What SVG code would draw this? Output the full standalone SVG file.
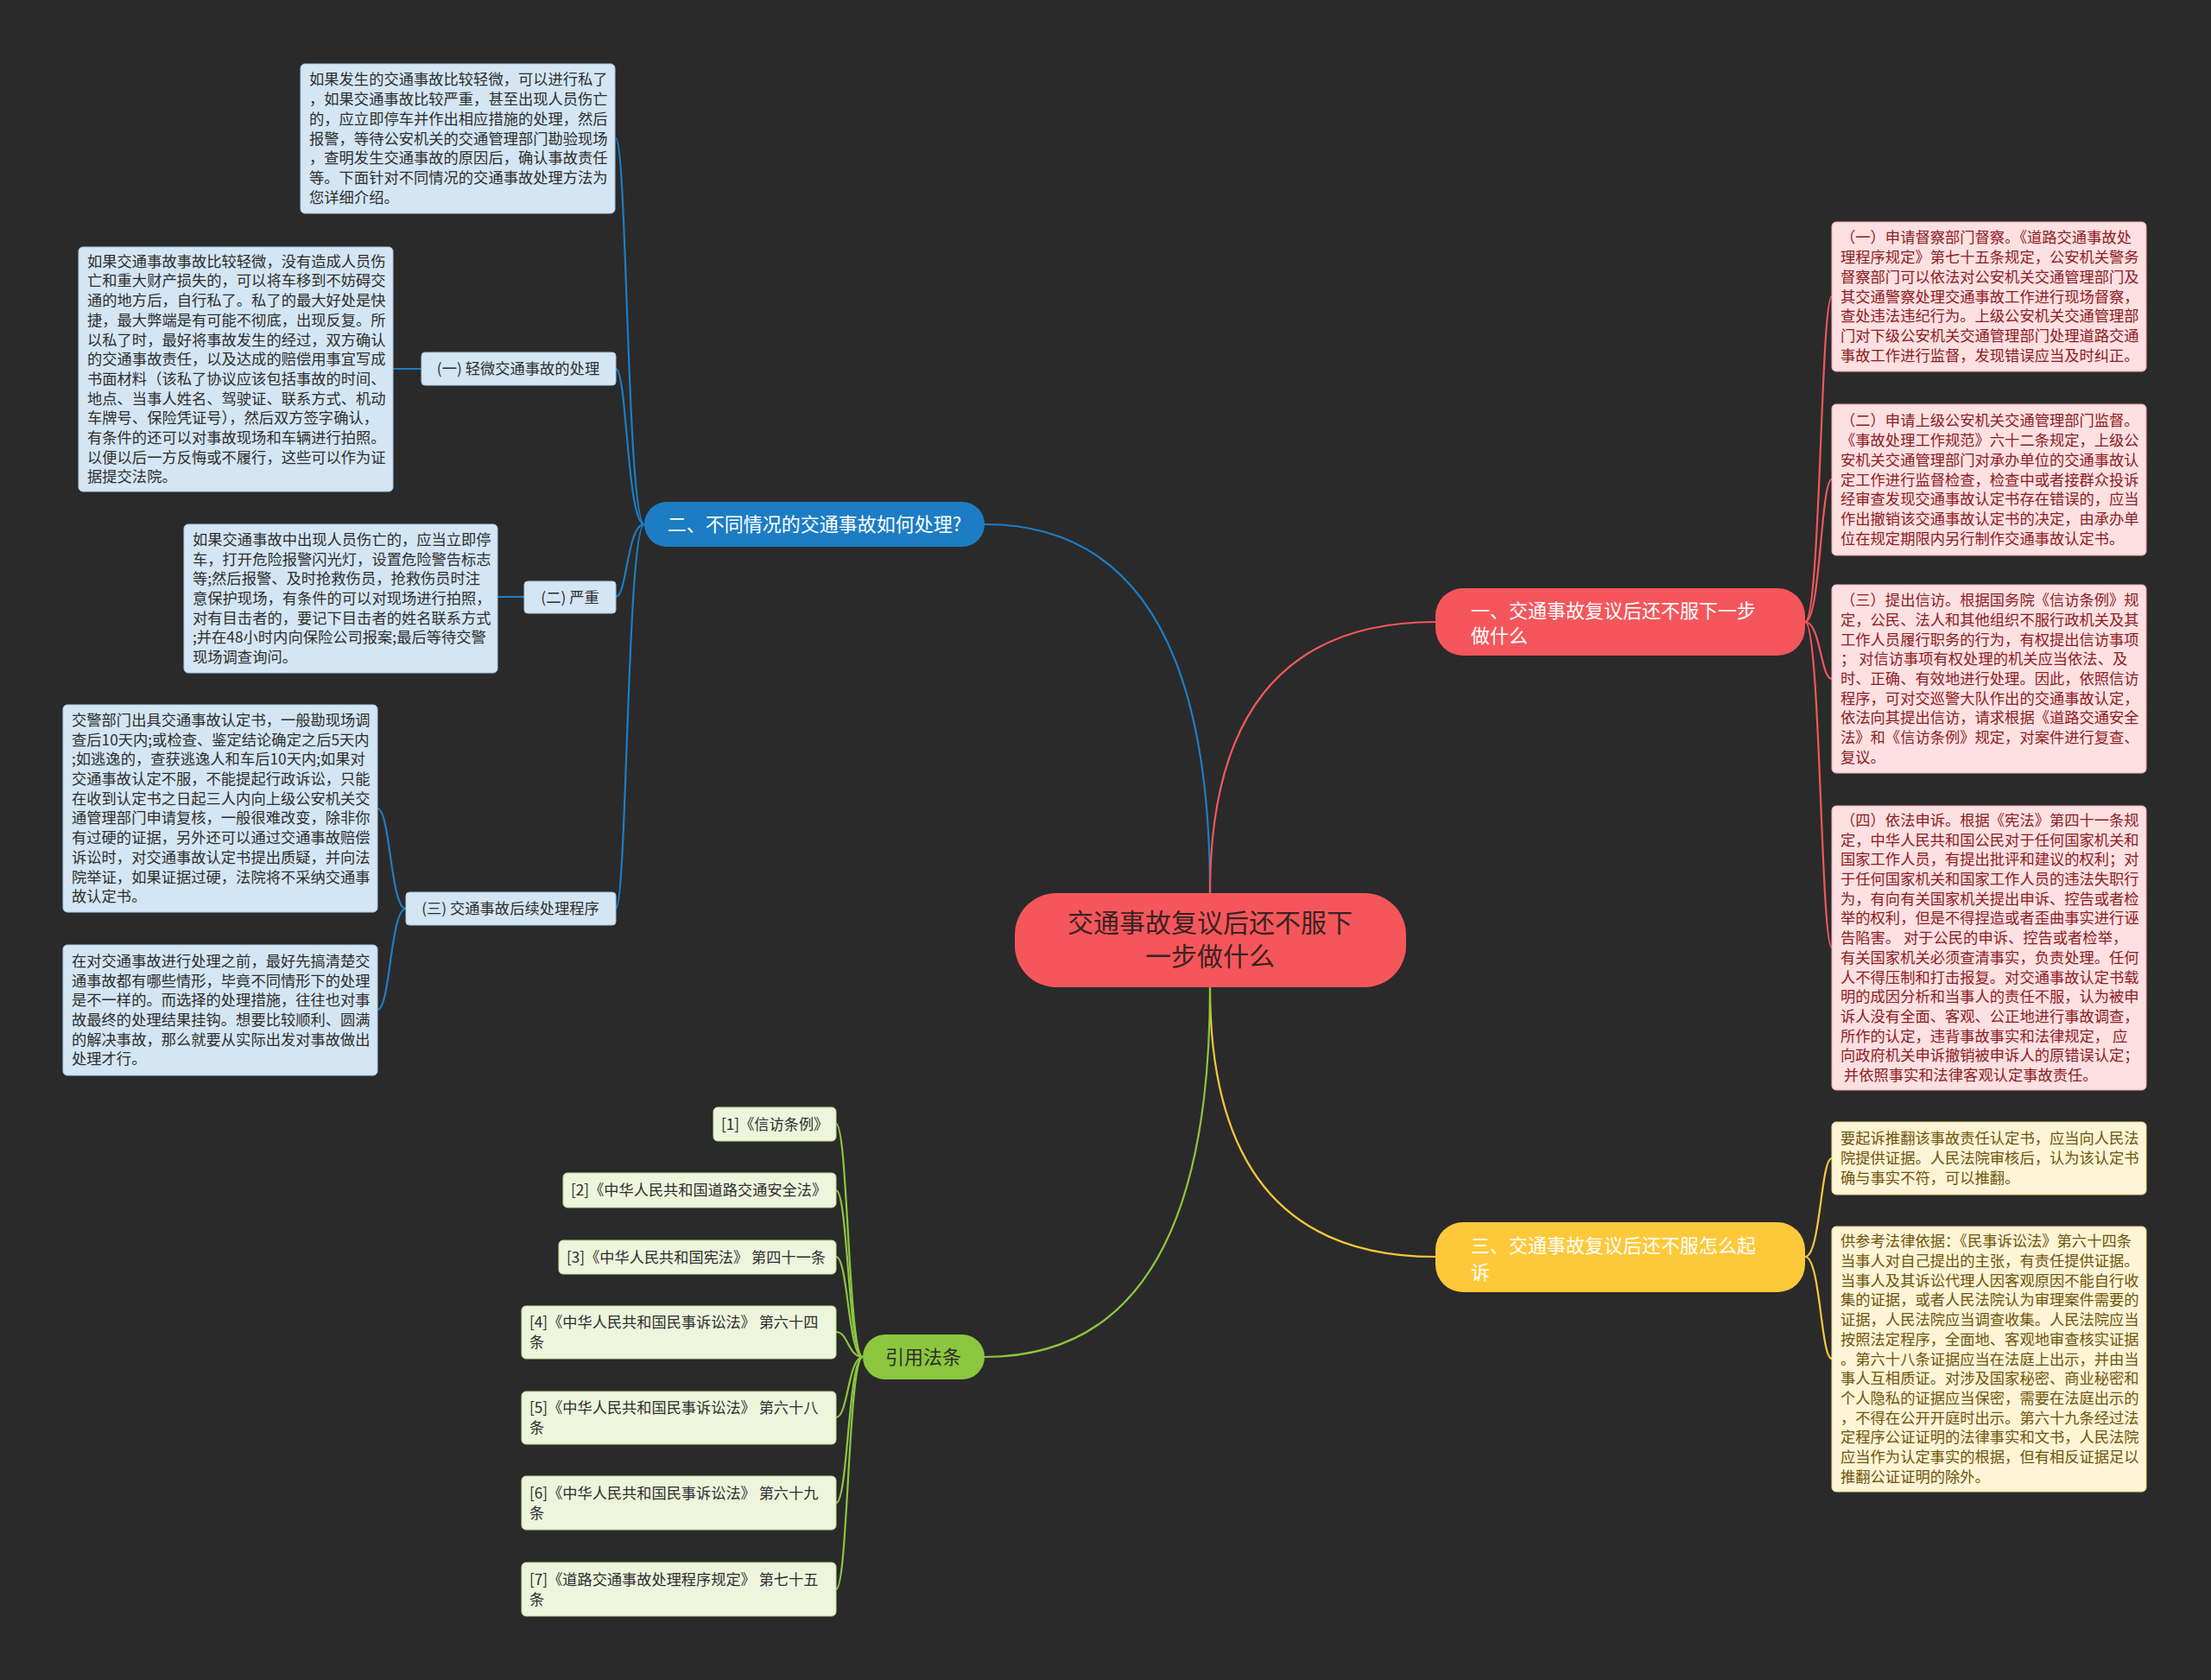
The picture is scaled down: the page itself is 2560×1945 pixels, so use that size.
<svg xmlns="http://www.w3.org/2000/svg" width="2560" height="1945" viewBox="0 0 2560 1945">
<style>
text{font-family:"Noto Sans CJK SC","Noto Sans",sans-serif}
.d{font-size:17.3px}
.r{font-size:17.2px}
.bt{fill:#2e2e2e}
.pt{fill:#8e1c22}
.yt{fill:#70540c}
.gt{fill:#2e2e2e}
.bb{fill:#d4e6f4;stroke:#a9c9e6;stroke-width:1}
.pb{fill:#fde0e2;stroke:#f2a7ab;stroke-width:1}
.yb{fill:#fdf5d6;stroke:#ecd58a;stroke-width:1}
.gb{fill:#edf5dc;stroke:#c3dc97;stroke-width:1}
.c{fill:none;stroke-width:2.2}
.cb{stroke:#1c7dc4}
.cr{stroke:#f0585c}
.cy{stroke:#f7c838}
.cg{stroke:#8cc63f}
</style>
<rect width="2560" height="1945" fill="#2a2a2a"/>
<g id="connectors">
<path class="c cb" d="M1401 1034 Q1401 607 1140 607" stroke-width="2.6"/>
<path class="c cr" d="M1401 1034 Q1401 720 1662 720" stroke-width="2.6"/>
<path class="c cy" d="M1401 1143 Q1401 1455 1662 1455" stroke-width="2.6"/>
<path class="c cg" d="M1401 1143 Q1401 1571 1140 1571" stroke-width="2.6"/>
<path class="c cb" d="M746 607 C726 607 726 160 713 160"/>
<path class="c cb" d="M746 607 C726 607 726 427 713 427"/>
<path class="c cb" d="M746 607 C726 607 726 691 713 691"/>
<path class="c cb" d="M746 607 C726 607 726 1052 713 1052"/>
<path class="c cb" d="M488 427 L455 427"/>
<path class="c cb" d="M607 691 L576 691"/>
<path class="c cb" d="M470 1052 C452 1052 452 936 437 936"/>
<path class="c cb" d="M470 1052 C452 1052 452 1169 437 1169"/>
<path class="c cr" d="M2090 720 C2108 720 2108 343 2121 343"/>
<path class="c cr" d="M2090 720 C2108 720 2108 555 2121 555"/>
<path class="c cr" d="M2090 720 C2108 720 2108 786 2121 786"/>
<path class="c cr" d="M2090 720 C2108 720 2108 1097 2121 1097"/>
<path class="c cy" d="M2090 1455 C2108 1455 2108 1341 2121 1341"/>
<path class="c cy" d="M2090 1455 C2108 1455 2108 1573 2121 1573"/>
<path class="c cg" d="M999 1571 C982 1571 982 1301 968 1301"/>
<path class="c cg" d="M999 1571 C982 1571 982 1378 968 1378"/>
<path class="c cg" d="M999 1571 C982 1571 982 1455 968 1455"/>
<path class="c cg" d="M999 1571 C982 1571 982 1542 968 1542"/>
<path class="c cg" d="M999 1571 C982 1571 982 1641 968 1641"/>
<path class="c cg" d="M999 1571 C982 1571 982 1740 968 1740"/>
<path class="c cg" d="M999 1571 C982 1571 982 1840 968 1840"/>
</g>
<g id="root">
<rect x="1175" y="1034" width="453" height="109" rx="48" fill="#f5565b"/>
<text x="1401" y="1079" font-size="30" text-anchor="middle" fill="#3a2222">交通事故复议后还不服下</text>
<text x="1401" y="1118" font-size="30" text-anchor="middle" fill="#3a2222">一步做什么</text>
</g>
<g id="b2">
<rect x="746" y="581" width="394" height="52" rx="26" fill="#1c7dc4"/>
<text x="943" y="615" font-size="22" text-anchor="middle" fill="#ffffff">二、不同情况的交通事故如何处理?</text>
</g>
<g id="b1">
<rect x="1662" y="681" width="428" height="78" rx="32" fill="#f5565b"/>
<text x="1703" y="715" font-size="22" fill="#ffffff">一、交通事故复议后还不服下一步</text>
<text x="1703" y="744" font-size="22" fill="#ffffff">做什么</text>
</g>
<g id="b3">
<rect x="1662" y="1415" width="428" height="81" rx="32" fill="#fdc93a"/>
<text x="1703" y="1450" font-size="22" fill="#ffffff">三、交通事故复议后还不服怎么起</text>
<text x="1703" y="1481" font-size="22" fill="#ffffff">诉</text>
</g>
<g id="b4">
<rect x="999" y="1545" width="141" height="52" rx="26" fill="#8cc63f"/>
<text x="1069" y="1579" font-size="22" text-anchor="middle" fill="#2e2e2e">引用法条</text>
</g>
<g id="n-intro">
<rect class="bb" x="348" y="74" width="364" height="173" rx="5"/>
<text class="d bt" x="358" y="98.4"><tspan x="358" dy="0">如果发生的交通事故比较轻微，可以进行私了</tspan><tspan x="358" dy="22.7">，如果交通事故比较严重，甚至出现人员伤亡</tspan><tspan x="358" dy="22.7">的，应立即停车并作出相应措施的处理，然后</tspan><tspan x="358" dy="22.7">报警，等待公安机关的交通管理部门勘验现场</tspan><tspan x="358" dy="22.7">，查明发生交通事故的原因后，确认事故责任</tspan><tspan x="358" dy="22.7">等。下面针对不同情况的交通事故处理方法为</tspan><tspan x="358" dy="22.7">您详细介绍。</tspan></text>
</g>
<g id="n-l1">
<rect class="bb" x="488" y="408" width="225" height="38" rx="4"/>
<text class="d bt" x="600" y="433" text-anchor="middle">(一) 轻微交通事故的处理</text>
</g>
<g id="n-l1a">
<rect class="bb" x="91" y="286" width="364" height="283" rx="5"/>
<text class="d bt" x="101" y="308.7"><tspan x="101" dy="0">如果交通事故事故比较轻微，没有造成人员伤</tspan><tspan x="101" dy="22.7">亡和重大财产损失的，可以将车移到不妨碍交</tspan><tspan x="101" dy="22.7">通的地方后，自行私了。私了的最大好处是快</tspan><tspan x="101" dy="22.7">捷，最大弊端是有可能不彻底，出现反复。所</tspan><tspan x="101" dy="22.7">以私了时，最好将事故发生的经过，双方确认</tspan><tspan x="101" dy="22.7">的交通事故责任，以及达成的赔偿用事宜写成</tspan><tspan x="101" dy="22.7">书面材料（该私了协议应该包括事故的时间、</tspan><tspan x="101" dy="22.7">地点、当事人姓名、驾驶证、联系方式、机动</tspan><tspan x="101" dy="22.7">车牌号、保险凭证号），然后双方签字确认，</tspan><tspan x="101" dy="22.7">有条件的还可以对事故现场和车辆进行拍照。</tspan><tspan x="101" dy="22.7">以便以后一方反悔或不履行，这些可以作为证</tspan><tspan x="101" dy="22.7">据提交法院。</tspan></text>
</g>
<g id="n-l2">
<rect class="bb" x="607" y="673" width="106" height="37" rx="4"/>
<text class="d bt" x="660" y="698" text-anchor="middle">(二) 严重</text>
</g>
<g id="n-l2a">
<rect class="bb" x="213" y="607" width="363" height="172" rx="5"/>
<text class="d bt" x="223" y="630.9"><tspan x="223" dy="0">如果交通事故中出现人员伤亡的，应当立即停</tspan><tspan x="223" dy="22.7">车，打开危险报警闪光灯，设置危险警告标志</tspan><tspan x="223" dy="22.7">等;然后报警、及时抢救伤员，抢救伤员时注</tspan><tspan x="223" dy="22.7">意保护现场，有条件的可以对现场进行拍照，</tspan><tspan x="223" dy="22.7">对有目击者的，要记下目击者的姓名联系方式</tspan><tspan x="223" dy="22.7">;并在48小时内向保险公司报案;最后等待交警</tspan><tspan x="223" dy="22.7">现场调查询问。</tspan></text>
</g>
<g id="n-l3">
<rect class="bb" x="470" y="1033" width="243" height="38" rx="4"/>
<text class="d bt" x="591" y="1058" text-anchor="middle">(三) 交通事故后续处理程序</text>
</g>
<g id="n-l3a">
<rect class="bb" x="73" y="816" width="364" height="240" rx="5"/>
<text class="d bt" x="83" y="839.9"><tspan x="83" dy="0">交警部门出具交通事故认定书，一般勘现场调</tspan><tspan x="83" dy="22.7">查后10天内;或检查、鉴定结论确定之后5天内</tspan><tspan x="83" dy="22.7">;如逃逸的，查获逃逸人和车后10天内;如果对</tspan><tspan x="83" dy="22.7">交通事故认定不服，不能提起行政诉讼，只能</tspan><tspan x="83" dy="22.7">在收到认定书之日起三人内向上级公安机关交</tspan><tspan x="83" dy="22.7">通管理部门申请复核，一般很难改变，除非你</tspan><tspan x="83" dy="22.7">有过硬的证据，另外还可以通过交通事故赔偿</tspan><tspan x="83" dy="22.7">诉讼时，对交通事故认定书提出质疑，并向法</tspan><tspan x="83" dy="22.7">院举证，如果证据过硬，法院将不采纳交通事</tspan><tspan x="83" dy="22.7">故认定书。</tspan></text>
</g>
<g id="n-l3b">
<rect class="bb" x="73" y="1094" width="364" height="151" rx="5"/>
<text class="d bt" x="83" y="1118.8"><tspan x="83" dy="0">在对交通事故进行处理之前，最好先搞清楚交</tspan><tspan x="83" dy="22.7">通事故都有哪些情形，毕竟不同情形下的处理</tspan><tspan x="83" dy="22.7">是不一样的。而选择的处理措施，往往也对事</tspan><tspan x="83" dy="22.7">故最终的处理结果挂钩。想要比较顺利、圆满</tspan><tspan x="83" dy="22.7">的解决事故，那么就要从实际出发对事故做出</tspan><tspan x="83" dy="22.7">处理才行。</tspan></text>
</g>
<g id="n-p1">
<rect class="pb" x="2121" y="257" width="364" height="173" rx="5"/>
<text class="d pt" x="2131" y="281.4"><tspan x="2131" dy="0">（一）申请督察部门督察。《道路交通事故处</tspan><tspan x="2131" dy="22.7">理程序规定》第七十五条规定，公安机关警务</tspan><tspan x="2131" dy="22.7">督察部门可以依法对公安机关交通管理部门及</tspan><tspan x="2131" dy="22.7">其交通警察处理交通事故工作进行现场督察，</tspan><tspan x="2131" dy="22.7">查处违法违纪行为。上级公安机关交通管理部</tspan><tspan x="2131" dy="22.7">门对下级公安机关交通管理部门处理道路交通</tspan><tspan x="2131" dy="22.7">事故工作进行监督，发现错误应当及时纠正。</tspan></text>
</g>
<g id="n-p2">
<rect class="pb" x="2121" y="468" width="364" height="175" rx="5"/>
<text class="d pt" x="2131" y="493.4"><tspan x="2131" dy="0">（二）申请上级公安机关交通管理部门监督。</tspan><tspan x="2131" dy="22.7">《事故处理工作规范》六十二条规定，上级公</tspan><tspan x="2131" dy="22.7">安机关交通管理部门对承办单位的交通事故认</tspan><tspan x="2131" dy="22.7">定工作进行监督检查，检查中或者接群众投诉</tspan><tspan x="2131" dy="22.7">经审查发现交通事故认定书存在错误的，应当</tspan><tspan x="2131" dy="22.7">作出撤销该交通事故认定书的决定，由承办单</tspan><tspan x="2131" dy="22.7">位在规定期限内另行制作交通事故认定书。</tspan></text>
</g>
<g id="n-p3">
<rect class="pb" x="2121" y="677" width="364" height="218" rx="5"/>
<text class="d pt" x="2131" y="701.2"><tspan x="2131" dy="0">（三）提出信访。根据国务院《信访条例》规</tspan><tspan x="2131" dy="22.7">定，公民、法人和其他组织不服行政机关及其</tspan><tspan x="2131" dy="22.7">工作人员履行职务的行为，有权提出信访事项</tspan><tspan x="2131" dy="22.7">； 对信访事项有权处理的机关应当依法、及</tspan><tspan x="2131" dy="22.7">时、正确、有效地进行处理。因此，依照信访</tspan><tspan x="2131" dy="22.7">程序，可对交巡警大队作出的交通事故认定，</tspan><tspan x="2131" dy="22.7">依法向其提出信访，请求根据《道路交通安全</tspan><tspan x="2131" dy="22.7">法》和《信访条例》规定，对案件进行复查、</tspan><tspan x="2131" dy="22.7">复议。</tspan></text>
</g>
<g id="n-p4">
<rect class="pb" x="2121" y="933" width="364" height="329" rx="5"/>
<text class="d pt" x="2131" y="955.95"><tspan x="2131" dy="0">（四）依法申诉。根据《宪法》第四十一条规</tspan><tspan x="2131" dy="22.7">定，中华人民共和国公民对于任何国家机关和</tspan><tspan x="2131" dy="22.7">国家工作人员，有提出批评和建议的权利；对</tspan><tspan x="2131" dy="22.7">于任何国家机关和国家工作人员的违法失职行</tspan><tspan x="2131" dy="22.7">为，有向有关国家机关提出申诉、控告或者检</tspan><tspan x="2131" dy="22.7">举的权利，但是不得捏造或者歪曲事实进行诬</tspan><tspan x="2131" dy="22.7">告陷害。 对于公民的申诉、控告或者检举，</tspan><tspan x="2131" dy="22.7">有关国家机关必须查清事实，负责处理。任何</tspan><tspan x="2131" dy="22.7">人不得压制和打击报复。对交通事故认定书载</tspan><tspan x="2131" dy="22.7">明的成因分析和当事人的责任不服，认为被申</tspan><tspan x="2131" dy="22.7">诉人没有全面、客观、公正地进行事故调查，</tspan><tspan x="2131" dy="22.7">所作的认定，违背事故事实和法律规定， 应</tspan><tspan x="2131" dy="22.7">向政府机关申诉撤销被申诉人的原错误认定；</tspan><tspan x="2131" dy="22.7"> 并依照事实和法律客观认定事故责任。</tspan></text>
</g>
<g id="n-y1">
<rect class="yb" x="2121" y="1299" width="364" height="84" rx="5"/>
<text class="d yt" x="2131" y="1324.3"><tspan x="2131" dy="0">要起诉推翻该事故责任认定书，应当向人民法</tspan><tspan x="2131" dy="22.7">院提供证据。人民法院审核后，认为该认定书</tspan><tspan x="2131" dy="22.7">确与事实不符，可以推翻。</tspan></text>
</g>
<g id="n-y2">
<rect class="yb" x="2121" y="1420" width="364" height="307" rx="5"/>
<text class="d yt" x="2131" y="1443.3"><tspan x="2131" dy="0">供参考法律依据：《民事诉讼法》第六十四条</tspan><tspan x="2131" dy="22.7">当事人对自己提出的主张，有责任提供证据。</tspan><tspan x="2131" dy="22.7">当事人及其诉讼代理人因客观原因不能自行收</tspan><tspan x="2131" dy="22.7">集的证据，或者人民法院认为审理案件需要的</tspan><tspan x="2131" dy="22.7">证据，人民法院应当调查收集。人民法院应当</tspan><tspan x="2131" dy="22.7">按照法定程序，全面地、客观地审查核实证据</tspan><tspan x="2131" dy="22.7">。第六十八条证据应当在法庭上出示，并由当</tspan><tspan x="2131" dy="22.7">事人互相质证。对涉及国家秘密、商业秘密和</tspan><tspan x="2131" dy="22.7">个人隐私的证据应当保密，需要在法庭出示的</tspan><tspan x="2131" dy="22.7">，不得在公开开庭时出示。第六十九条经过法</tspan><tspan x="2131" dy="22.7">定程序公证证明的法律事实和文书，人民法院</tspan><tspan x="2131" dy="22.7">应当作为认定事实的根据，但有相反证据足以</tspan><tspan x="2131" dy="22.7">推翻公证证明的除外。</tspan></text>
</g>
<g id="ref1">
<rect class="gb" x="826" y="1282" width="142" height="39" rx="5"/>
<text class="r gt" x="835" y="1307.5">[1]《信访条例》</text>
</g>
<g id="ref2">
<rect class="gb" x="652" y="1358" width="316" height="40" rx="5"/>
<text class="r gt" x="661" y="1384">[2]《中华人民共和国道路交通安全法》</text>
</g>
<g id="ref3">
<rect class="gb" x="647" y="1436" width="321" height="39" rx="5"/>
<text class="r gt" x="656" y="1461.5">[3]《中华人民共和国宪法》 第四十一条</text>
</g>
<g id="ref4">
<rect class="gb" x="604" y="1512" width="364" height="61" rx="5"/>
<text class="r gt" x="613" y="1537"><tspan x="613" dy="0">[4]《中华人民共和国民事诉讼法》 第六十四</tspan><tspan x="613" dy="23">条</tspan></text>
</g>
<g id="ref5">
<rect class="gb" x="604" y="1611" width="364" height="61" rx="5"/>
<text class="r gt" x="613" y="1636"><tspan x="613" dy="0">[5]《中华人民共和国民事诉讼法》 第六十八</tspan><tspan x="613" dy="23">条</tspan></text>
</g>
<g id="ref6">
<rect class="gb" x="604" y="1709" width="364" height="62" rx="5"/>
<text class="r gt" x="613" y="1735"><tspan x="613" dy="0">[6]《中华人民共和国民事诉讼法》 第六十九</tspan><tspan x="613" dy="23">条</tspan></text>
</g>
<g id="ref7">
<rect class="gb" x="604" y="1809" width="364" height="62" rx="5"/>
<text class="r gt" x="613" y="1835"><tspan x="613" dy="0">[7]《道路交通事故处理程序规定》 第七十五</tspan><tspan x="613" dy="23">条</tspan></text>
</g>
</svg>
